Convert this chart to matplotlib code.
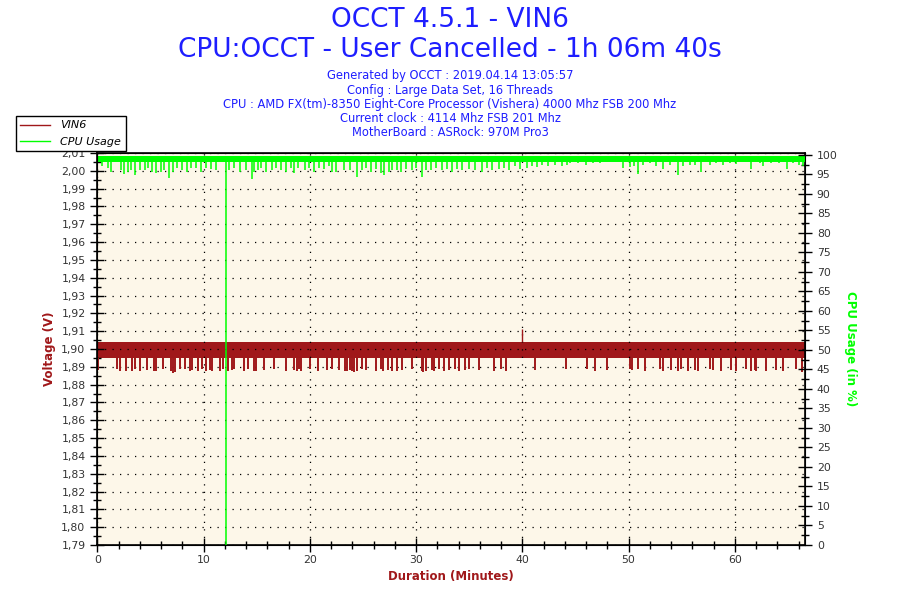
import matplotlib
matplotlib.use("Agg")
import matplotlib.pyplot as plt
from matplotlib.ticker import MultipleLocator, FuncFormatter
from matplotlib.lines import Line2D

# --- data (minutes / volts / percent) ---
duration_end = 66.6

vin6_band_t = [0.0, 66.6]
vin6_band_lo = [1.8950, 1.8950]
vin6_band_hi = [1.9037, 1.9037]

vin6_dip_t = [0.09, 1.87, 2.12, 2.68, 3.31, 3.53, 4.06, 4.65, 5.34, 5.50, 6.18, 6.97,
              7.16, 7.34, 7.75, 8.22, 8.69, 8.94, 9.47, 9.84, 10.25, 10.56, 10.78,
              11.50, 11.81, 12.28, 12.66, 12.91, 13.85, 14.22, 14.78, 14.94, 15.72,
              16.66, 17.75, 18.54, 18.79, 19.00, 19.16, 20.04, 20.79, 21.66, 22.13,
              22.70, 23.32, 23.54, 23.76, 23.94, 24.16, 24.48, 24.88, 25.32, 26.26,
              26.67, 26.88, 27.38, 27.76, 28.23, 28.70, 29.58, 30.51, 30.67, 30.89,
              31.51, 31.67, 32.14, 32.61, 33.08, 33.64, 34.08, 34.64, 34.95, 35.89,
              37.30, 38.02, 38.46, 41.21, 44.12, 46.12, 46.84, 47.93, 50.12, 50.28,
              50.90, 51.53, 52.93, 53.25, 54.03, 54.65, 54.97, 55.59, 56.22, 56.53,
              57.63, 57.94, 58.72, 59.66, 60.13, 61.06, 61.53, 61.85, 62.00, 62.94,
              63.88, 64.51, 65.76, 66.32]
vin6_dip_v = [1.8880, 1.8885, 1.8875, 1.8875, 1.8875, 1.8890, 1.8875, 1.8880, 1.8875, 1.8875,
              1.8890, 1.8875, 1.8865, 1.8870, 1.8885, 1.8890, 1.8875, 1.8880, 1.8875,
              1.8890, 1.8875, 1.8880, 1.8875, 1.8875, 1.8890, 1.8875, 1.8880, 1.8885,
              1.8875, 1.8890, 1.8875, 1.8875, 1.8880, 1.8890, 1.8875, 1.8880, 1.8875,
              1.8890, 1.8875, 1.8890, 1.8875, 1.8880, 1.8890, 1.8880, 1.8875, 1.8875,
              1.8880, 1.8875, 1.8870, 1.8875, 1.8890, 1.8880, 1.8875, 1.8890, 1.8875,
              1.8880, 1.8875, 1.8875, 1.8880, 1.8890, 1.8875, 1.8870, 1.8875, 1.8880,
              1.8875, 1.8890, 1.8875, 1.8880, 1.8890, 1.8875, 1.8880, 1.8890, 1.8880,
              1.8875, 1.8890, 1.8875, 1.8880, 1.8885, 1.8890, 1.8875, 1.8880, 1.8890,
              1.8880, 1.8885, 1.8875, 1.8890, 1.8875, 1.8880, 1.8875, 1.8890, 1.8875,
              1.8880, 1.8875, 1.8890, 1.8880, 1.8875, 1.8880, 1.8875, 1.8890, 1.8875,
              1.8880, 1.8875, 1.8875, 1.8880, 1.8875, 1.8890, 1.8870]
vin6_spike_t = [39.95]
vin6_spike_v = [1.9110]

cpu_band_t = [0.0, 66.6]
cpu_band_lo = [98.1, 98.1]
cpu_band_hi = [99.7, 99.7]

cpu_dip_t = [0.46, 1.03, 1.28, 2.21, 2.53, 2.90, 3.15, 3.59, 4.00, 4.46, 4.78, 5.15, 5.50,
             6.03, 6.28, 6.72, 7.12, 7.53, 7.97, 8.47, 8.84, 9.25, 9.78, 10.25, 10.72,
             11.19, 12.08, 12.44, 12.91, 13.47, 14.00, 14.53, 14.78, 15.10, 15.41, 15.88,
             16.41, 16.82, 17.29, 17.75, 18.22, 18.54, 18.91, 19.54, 19.95, 20.41, 20.88,
             21.36, 21.82, 22.13, 22.45, 23.23, 23.76, 24.48, 24.95, 25.26, 25.73, 26.20,
             26.67, 26.98, 27.45, 27.76, 28.23, 28.54, 29.01, 29.64, 30.01, 30.57, 30.95,
             31.36, 31.83, 32.45, 32.92, 33.39, 33.86, 34.33, 34.95, 35.58, 36.21, 36.67,
             37.14, 37.77, 38.24, 38.71, 39.33, 39.80, 40.43, 40.89, 41.36, 41.83, 42.46,
             43.09, 43.71, 44.18, 44.49, 45.27, 45.99, 46.68, 47.30, 48.24, 49.49, 50.12,
             50.49, 50.90, 51.37, 51.99, 52.62, 53.25, 53.87, 54.65, 55.12, 55.75, 56.22,
             56.84, 57.63, 58.25, 58.88, 59.50, 60.13, 60.75, 61.53, 62.32, 62.63, 63.41,
             64.19, 64.88, 65.45, 66.07, 66.45]
cpu_dip_v = [97.0, 96.6, 95.7, 96.2, 95.0, 95.7, 96.0, 94.9, 96.2, 96.2, 96.6, 95.7, 95.3,
             95.7, 96.2, 94.0, 95.7, 96.6, 96.2, 95.7, 96.6, 96.6, 95.7, 96.6, 96.4,
             96.2, 0.0, 96.0, 96.6, 95.7, 96.0, 93.8, 95.7, 96.2, 96.6, 95.7, 96.2,
             96.6, 96.2, 95.6, 96.6, 95.3, 96.6, 96.2, 96.6, 95.7, 96.6, 96.4, 97.0,
             95.7, 95.7, 96.2, 96.0, 94.4, 96.2, 96.6, 95.7, 96.4, 95.3, 94.7, 95.7,
             96.2, 96.2, 95.7, 96.4, 96.2, 96.6, 94.4, 96.2, 96.0, 96.6, 96.2, 96.4,
             95.7, 96.4, 96.2, 96.4, 96.2, 95.7, 96.6, 96.0, 96.4, 96.6, 96.2, 97.0,
             96.4, 96.6, 97.0, 96.8, 97.3, 97.0, 97.3, 97.0, 97.4, 98.0, 97.9, 97.3,
             97.9, 97.9, 98.1, 96.6, 96.8, 97.0, 95.0, 97.4, 97.9, 97.0, 96.4, 97.4,
             94.9, 97.0, 97.4, 97.3, 95.7, 97.4, 97.9, 97.4, 97.9, 97.6, 98.1, 96.4,
             97.9, 97.0, 97.9, 97.9, 96.4, 97.9, 97.4, 97.0]

title_lines = ["OCCT 4.5.1 - VIN6", "CPU:OCCT - User Cancelled - 1h 06m 40s"]
info_lines = [
    "Generated by OCCT : 2019.04.14 13:05:57",
    "Config : Large Data Set, 16 Threads",
    "CPU : AMD FX(tm)-8350 Eight-Core Processor (Vishera) 4000 Mhz FSB 200 Mhz",
    "Current clock : 4114 Mhz FSB 201 Mhz",
    "MotherBoard : ASRock: 970M Pro3",
]

RED = "#A0181A"
GREEN = "#00FF00"
BLUE = "#1E1EFF"
TICK = "#333333"

fig = plt.figure(figsize=(9, 6), dpi=100)
ax = fig.add_axes([97.3 / 900, 55 / 600, 707.7 / 900, 392 / 600])
ax.set_facecolor("#FDF7E9")

# voltage
ax.fill_between(vin6_band_t, vin6_band_lo, vin6_band_hi, color=RED, lw=0)
ax.vlines(vin6_dip_t, vin6_dip_v, vin6_band_lo[0], color=RED, lw=1.4)
ax.vlines(vin6_spike_t, vin6_band_hi[0], vin6_spike_v, color=RED, lw=1.0)

ax.set_xlim(0, duration_end)
ax.set_ylim(1.79, 2.01)
ax.xaxis.set_major_locator(MultipleLocator(10))
ax.xaxis.set_minor_locator(MultipleLocator(2))
ax.yaxis.set_major_locator(MultipleLocator(0.01))
ax.yaxis.set_minor_locator(MultipleLocator(0.005))
ax.yaxis.set_major_formatter(FuncFormatter(lambda v, p: f"{v:.2f}".replace(".", ",")))
ax.grid(True, which="major", color="black", linestyle=(0, (1, 5)), linewidth=0.9)
ax.tick_params(axis="both", which="major", direction="inout", length=10, width=1.0,
               labelsize=7.8, labelcolor=TICK)
ax.tick_params(axis="both", which="minor", direction="inout", length=6, width=1.0)
ax.tick_params(axis="x", pad=2)
for s in ax.spines.values():
    s.set_linewidth(1.2)

# cpu usage on right axis
ax2 = ax.twinx()
ax2.fill_between(cpu_band_t, cpu_band_lo, cpu_band_hi, color=GREEN, lw=0)
ax2.vlines(cpu_dip_t, cpu_dip_v, cpu_band_lo[0], color=GREEN, lw=1.1)
ax2.set_ylim(0, 100.45)
ax2.yaxis.set_major_locator(MultipleLocator(5))
ax2.yaxis.set_minor_locator(MultipleLocator(2.5))
ax2.tick_params(axis="y", which="major", direction="inout", length=10, width=1.0,
                labelsize=7.8, labelcolor=TICK)
ax2.tick_params(axis="y", which="minor", direction="inout", length=6, width=1.0)

ax.set_ylabel("Voltage (V)", color=RED, fontsize=8.5, fontweight="bold", labelpad=4)
ax2.set_ylabel("CPU Usage (in %)", color=GREEN, fontsize=8.5, fontweight="bold",
               rotation=270, labelpad=14)
ax.set_xlabel("Duration (Minutes)", color=RED, fontsize=8.5, fontweight="bold", labelpad=4)

fig.text(0.5, 1 - 20 / 600, title_lines[0], ha="center", va="center", fontsize=19, color=BLUE)
fig.text(0.5, 1 - 50 / 600, title_lines[1], ha="center", va="center", fontsize=19, color=BLUE)
for i, line in enumerate(info_lines):
    fig.text(0.5, 1 - (76 + i * 14.1) / 600, line, ha="center", va="center",
             fontsize=8.3, color=BLUE)

handles = [Line2D([], [], color=RED, lw=1.0), Line2D([], [], color=GREEN, lw=1.0)]
leg = fig.legend(handles, ["VIN6", "CPU Usage"], loc="upper left",
                 bbox_to_anchor=(16 / 900, 1 - 116 / 600), borderaxespad=0,
                 fancybox=False, edgecolor="black", framealpha=1,
                 prop={"size": 8, "style": "italic"}, handlelength=2.7,
                 handletextpad=0.9, labelspacing=0.55, borderpad=0.4)
leg.get_frame().set_linewidth(1.0)

fig.savefig("out.png", dpi=100, facecolor="white")
